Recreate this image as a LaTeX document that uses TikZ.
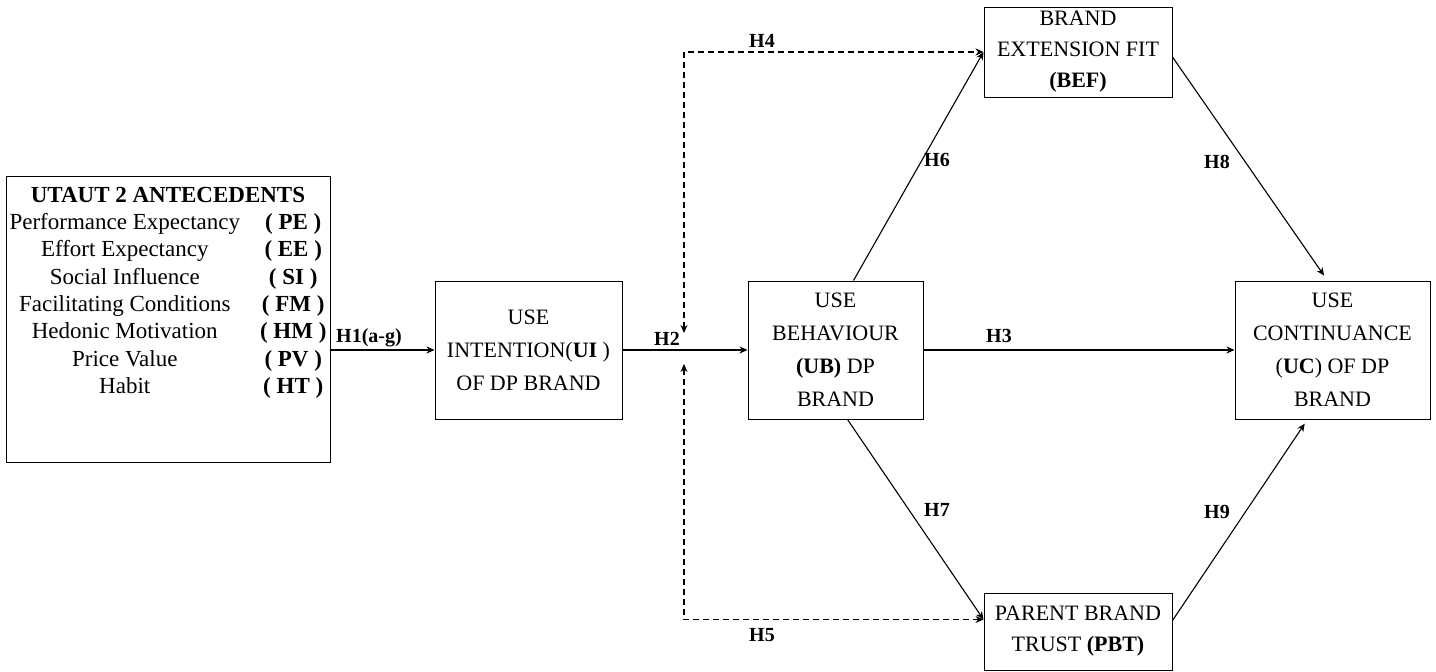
\documentclass[tikz,border=0pt]{standalone}
\usepackage{fontspec}
\setmainfont{Liberation Serif}
\usepackage{tikz}
\usetikzlibrary{positioning, arrows.meta}
\tikzset{
  antbox/.style={rectangle, draw=black, line width=1pt, minimum width=324pt, minimum height=286pt, inner sep=0pt},
  constructbox/.style={rectangle, draw=black, line width=1pt, minimum height=138pt, inner sep=0pt, font=\fontsize{22}{33}\selectfont, align=center},
  sidebox/.style={rectangle, draw=black, line width=1pt, minimum width=188pt, inner sep=0pt, font=\fontsize{22}{31}\selectfont, align=center},
  hlabel/.style={inner sep=0pt, font=\fontsize{20}{22}\selectfont\bfseries},
  arrow/.style={->, >={Stealth[length=8pt, width=7pt]}, line width=1.1pt},
  dashedarrow/.style={<->, >={Stealth[length=8pt, width=7pt]}, line width=1.1pt, dash pattern=on 6pt off 4pt}
}

\begin{document}
\begin{tikzpicture}[x=1pt, y=-1pt]
  \useasboundingbox (0,0) rectangle (1436,672);

  \node[antbox] (utaut) at (168,319) {};
  \node[anchor=north, inner sep=0pt, font=\fontsize{23}{27.3}\selectfont] (antlist) at (168,183) {%
    \begin{tabular}{@{}c@{\hspace{20pt}}c@{}}
      \multicolumn{2}{c}{\textbf{UTAUT 2 ANTECEDENTS}}\\
      Performance Expectancy & \textbf{( PE )}\\
      Effort Expectancy & \textbf{( EE )}\\
      Social Influence & \textbf{( SI )}\\
      Facilitating Conditions & \textbf{( FM )}\\
      Hedonic Motivation & \textbf{( HM )}\\
      Price Value & \textbf{( PV )}\\
      Habit & \textbf{( HT )}
    \end{tabular}};

  \node[constructbox, minimum width=187pt] (ui) at (528.5,350) {USE\\INTENTION(\textbf{UI} )\\OF DP BRAND};
  \node[constructbox, minimum width=175pt, right=125pt of ui] (ub) {USE\\BEHAVIOUR\\\textbf{(UB)} DP\\BRAND};
  \node[constructbox, minimum width=195pt, right=311pt of ub] (uc) {USE\\CONTINUANCE\\(\textbf{UC}) OF DP\\BRAND};
  \node[sidebox, minimum height=90pt] (bef) at (1078,52) {BRAND\\EXTENSION FIT\\\textbf{(BEF)}};
  \node[sidebox, minimum height=77pt] (pbt) at (1078,631.5) {PARENT BRAND\\TRUST \textbf{(PBT)}};

  \coordinate (modtop) at (684,333);
  \coordinate (modbot) at (684,364);

  \draw[arrow] (utaut.east |- ui.west) -- (ui.west);
  \draw[arrow] (ui) -- (ub);
  \draw[arrow, line width=1.8pt] (ub) -- (uc);
  \draw[arrow] ([xshift=18pt]ub.north) -- (bef.west);
  \draw[arrow] ([xshift=12pt]ub.south) -- ([yshift=12pt]pbt.west);
  \draw[arrow, shorten >=6pt] ([yshift=-5pt]bef.east) -- ([xshift=-5pt]uc.north);
  \draw[arrow, shorten >=5pt] ([yshift=11pt]pbt.east) -- ([xshift=-25pt]uc.south);
  \draw[dashedarrow] (modtop) |- (bef.west);
  \draw[dashedarrow] (modbot) |- ([yshift=12pt]pbt.west);

  \node[hlabel] (h1) at (369,338) {H1(a-g)};
  \node[hlabel] (h2) at (667,339) {H2};
  \node[hlabel] (h3) at (999,336) {H3};
  \node[hlabel] (h4) at (762,41) {H4};
  \node[hlabel] (h5) at (762,635) {H5};
  \node[hlabel] (h6) at (937,160) {H6};
  \node[hlabel] (h7) at (937,510) {H7};
  \node[hlabel] (h8) at (1217,162) {H8};
  \node[hlabel] (h9) at (1217,512) {H9};
\end{tikzpicture}
\end{document}
